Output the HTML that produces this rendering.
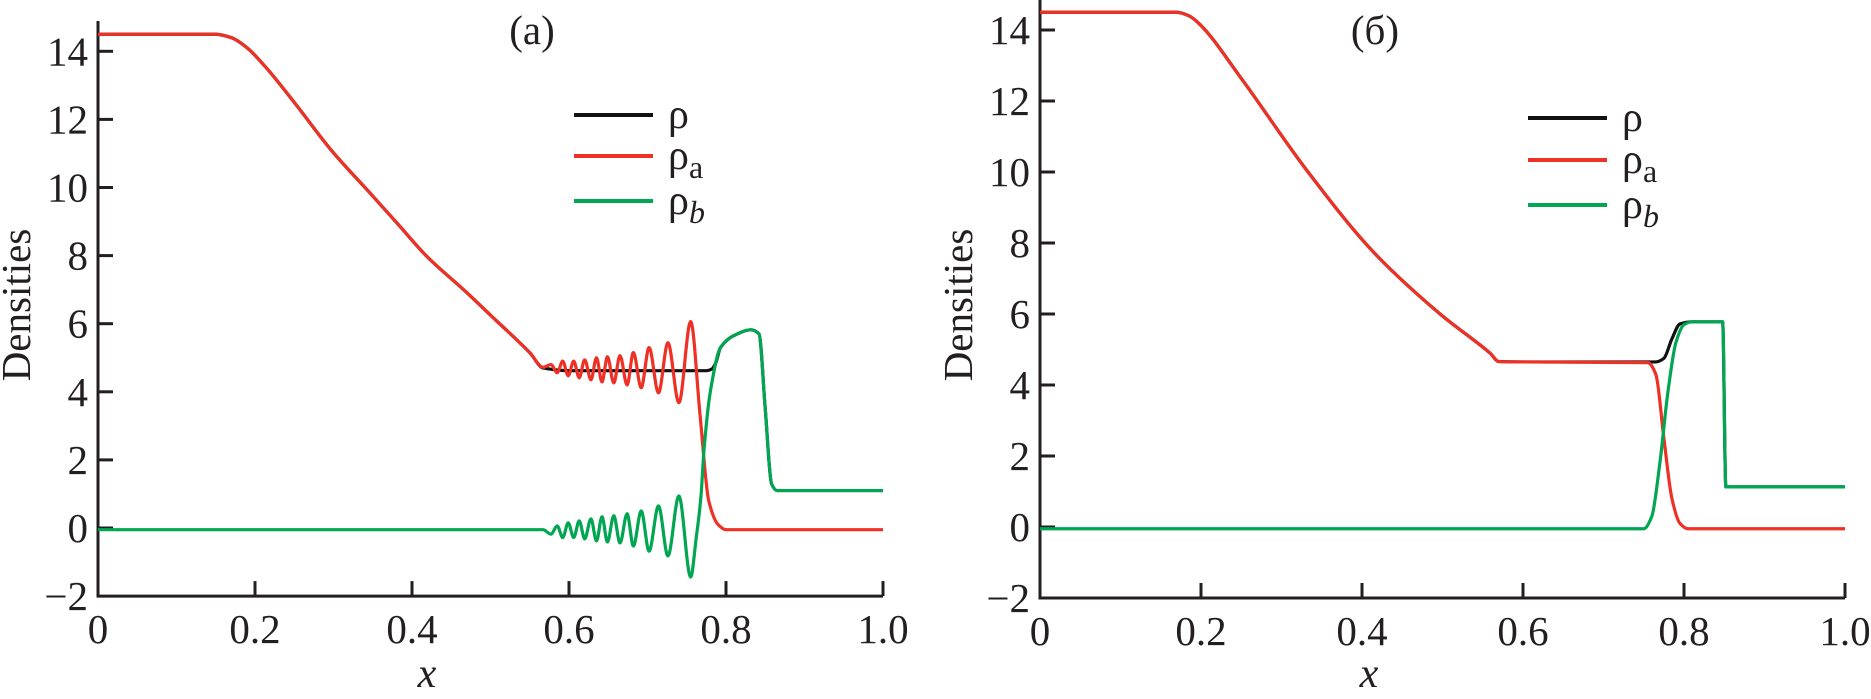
<!DOCTYPE html>
<html><head><meta charset="utf-8"><style>
html,body{margin:0;padding:0;background:#fff;}
svg{display:block;}
text{font-family:"Liberation Serif",serif;fill:#231f20;}
</style></head><body>
<svg id="chart" width="1871" height="699" viewBox="0 0 1871 699">
<g id="panelA"></g>
<g id="panelB"></g>
</svg>
<script>
// ---- shared ticks ----
const xTicks = [0, 0.2, 0.4, 0.6, 0.8, 1.0];
const xTickLabels = ["0", "0.2", "0.4", "0.6", "0.8", "1.0"];
const yTicks = [-2, 0, 2, 4, 6, 8, 10, 12, 14];
const yTickLabels = ["\u22122", "0", "2", "4", "6", "8", "10", "12", "14"];

// ---- panel (a) data ----
const aRhoA_x = [0,0.15,0.17,0.19,0.213,0.25,0.297,0.35,0.383,0.42,0.468,0.5,0.55,0.567,0.577,0.585,0.592,0.599,0.606,0.613,0.620,0.628,0.635,0.642,0.649,0.657,0.665,0.674,0.682,0.692,0.702,0.714,0.726,0.740,0.755,0.767,0.778,0.79,0.80,0.82,1.0];
const aRhoA_v = [14.5,14.5,14.4,14.1,13.55,12.5,11.1,9.75,8.9,7.95,6.95,6.25,5.15,4.72,4.8,4.56,4.9,4.47,4.9,4.41,4.94,4.35,5.0,4.29,5.03,4.26,5.06,4.2,5.15,4.12,5.3,3.97,5.44,3.68,6.06,3.3,0.8,0.1,-0.05,-0.05,-0.05];
const aRhoB_x = [0,0.56,0.567,0.577,0.585,0.592,0.599,0.606,0.613,0.620,0.628,0.635,0.642,0.649,0.657,0.665,0.674,0.682,0.692,0.702,0.714,0.726,0.740,0.755,0.762,0.768,0.772,0.78,0.793,0.81,0.832,0.842,0.85,0.858,0.865,1.0];
const aRhoB_v = [-0.05,-0.05,-0.05,-0.18,0.06,-0.28,0.15,-0.28,0.21,-0.32,0.27,-0.38,0.33,-0.41,0.36,-0.44,0.42,-0.53,0.5,-0.68,0.65,-0.82,0.94,-1.44,-0.3,0.9,2.3,4.0,5.3,5.65,5.82,5.7,3.5,1.3,1.1,1.1];
const aRho_x = [0,0.15,0.17,0.19,0.213,0.25,0.297,0.35,0.383,0.42,0.468,0.5,0.55,0.567,0.6,0.775,0.782,0.787,0.793,0.81,0.832,0.842,0.85,0.858,0.865,1.0];
const aRho_v = [14.5,14.5,14.4,14.1,13.55,12.5,11.1,9.75,8.9,7.95,6.95,6.25,5.15,4.7,4.62,4.62,4.67,4.85,5.3,5.65,5.82,5.7,3.5,1.3,1.1,1.1];

// ---- panel (б) data ----
const bRhoA_x = [0,0.17,0.185,0.199,0.248,0.331,0.414,0.497,0.559,0.57,0.6,0.755,0.765,0.775,0.785,0.795,0.805,1.0];
const bRhoA_v = [14.5,14.5,14.4,14.15,12.7,10.06,7.75,6.0,4.9,4.66,4.65,4.63,4.3,2.5,0.8,0.1,-0.05,-0.05];
const bRhoB_x = [0,0.75,0.76,0.77,0.78,0.79,0.8,0.81,0.848,0.852,1.0];
const bRhoB_v = [-0.05,-0.05,0.3,1.8,3.8,5.2,5.7,5.78,5.78,1.13,1.13];
const bRho_x = [0,0.17,0.185,0.199,0.248,0.331,0.414,0.497,0.559,0.57,0.6,0.765,0.775,0.785,0.795,0.81,0.848,0.852,1.0];
const bRho_v = [14.5,14.5,14.4,14.15,12.7,10.06,7.75,6.0,4.9,4.66,4.65,4.65,4.75,5.3,5.72,5.78,5.78,1.13,1.13];

const NS = "http://www.w3.org/2000/svg";
function mk(tag, attrs, parent){ const e=document.createElementNS(NS,tag); for(const k in attrs) e.setAttribute(k,attrs[k]); parent.appendChild(e); return e; }

function monoPath(px, py){
  const n=px.length, d=[], m=new Array(n);
  for(let i=0;i<n-1;i++) d.push((py[i+1]-py[i])/((px[i+1]-px[i])||1e-9));
  m[0]=d[0]; m[n-1]=d[n-2];
  for(let i=1;i<n-1;i++){ if(d[i-1]*d[i]<=0) m[i]=0; else { m[i]=2/(1/d[i-1]+1/d[i]); } }
  let s="M"+px[0].toFixed(2)+","+py[0].toFixed(2);
  for(let i=0;i<n-1;i++){ const h=px[i+1]-px[i];
    s+=" C"+(px[i]+h/3).toFixed(2)+","+(py[i]+m[i]*h/3).toFixed(2)+" "+(px[i+1]-h/3).toFixed(2)+","+(py[i+1]-m[i+1]*h/3).toFixed(2)+" "+px[i+1].toFixed(2)+","+py[i+1].toFixed(2); }
  return s;
}

function drawPanel(g, cfg){
  const X = v => cfg.x0 + v*(cfg.x1-cfg.x0);
  const Y = v => cfg.y0 - v*cfg.ky;
  const axis = mk("path",{d:"M"+X(0)+","+cfg.top+" L"+X(0)+","+Y(-2)+" L"+X(1)+","+Y(-2),fill:"none",stroke:"#231f20","stroke-width":3},g);
  
  
  yTicks.forEach((t,i)=>{
    if(t>-2){ const tk=mk("line",{x1:X(0),x2:X(0)+15,y1:Y(t),y2:Y(t),stroke:"#231f20","stroke-width":3},g);
      
       }
    const tl=mk("text",{x:X(0)-10,y:Y(t)+14,"font-size":41,"text-anchor":"end"},g); tl.textContent=yTickLabels[i];
    
    
  });
  xTicks.forEach((t,i)=>{
    if(t>0){ const tk=mk("line",{x1:X(t),x2:X(t),y1:Y(-2),y2:Y(-2)-15,stroke:"#231f20","stroke-width":3},g);
      
       }
    const tl=mk("text",{x:X(t),y:Y(-2)+47,"font-size":41,"text-anchor":"middle"},g); tl.textContent=xTickLabels[i];
    
    
  });
  const xl=mk("text",{x:X(0)+329,y:687,"font-size":42,"font-style":"italic","text-anchor":"middle"},g); xl.textContent="x";
  
  
  const yl=mk("text",{x:0,y:0,"font-size":41,"text-anchor":"middle",transform:"translate("+(X(0)-68)+",305) rotate(-90)"},g); yl.textContent="Densities";
  
  
  const ti=mk("text",{x:cfg.titleX,y:44,"font-size":41,"text-anchor":"middle"},g); ti.textContent=cfg.title;
  
  
  const series=[["#111",cfg.rho,"rho-line"],["#ee3124",cfg.rhoA,"rho-a-line"],["#00a651",cfg.rhoB,"rho-b-line"]];
  series.forEach(s=>{
    const p=mk("path",{d:monoPath(s[1][0].map(X),s[1][1].map(Y)),fill:"none",stroke:s[0],"stroke-width":3.2,"stroke-linejoin":"round"},g);
    
    
  });
  const labs=[["ρ","",""],["ρ","a","normal"],["ρ","b","italic"]];
  series.forEach((s,i)=>{
    const ly=cfg.legY[i];
    const ll=mk("line",{x1:cfg.legX,x2:cfg.legX+79,y1:ly,y2:ly,stroke:s[0],"stroke-width":4},g);
    
    
    const lt=mk("text",{x:cfg.legX+94,y:ly+13,"font-size":42},g);
    
    
    lt.textContent=labs[i][0];
    if(labs[i][1]){ const sp=mk("tspan",{dy:9,"font-size":32,"font-style":labs[i][2]},lt); sp.textContent=labs[i][1]; }
  });
}

drawPanel(document.getElementById("panelA"),{x0:98,x1:883,y0:528,ky:34.05,top:21,title:"(a)",titleX:532,
  legX:574,legY:[115,156,201],rho:[aRho_x,aRho_v],rhoA:[aRhoA_x,aRhoA_v],rhoB:[aRhoB_x,aRhoB_v]});
drawPanel(document.getElementById("panelB"),{x0:1040,x1:1845,y0:527,ky:35.5,top:0,title:"(б)",titleX:1375,
  legX:1528,legY:[118,160,205],rho:[bRho_x,bRho_v],rhoA:[bRhoA_x,bRhoA_v],rhoB:[bRhoB_x,bRhoB_v]});
</script>
</body></html>
